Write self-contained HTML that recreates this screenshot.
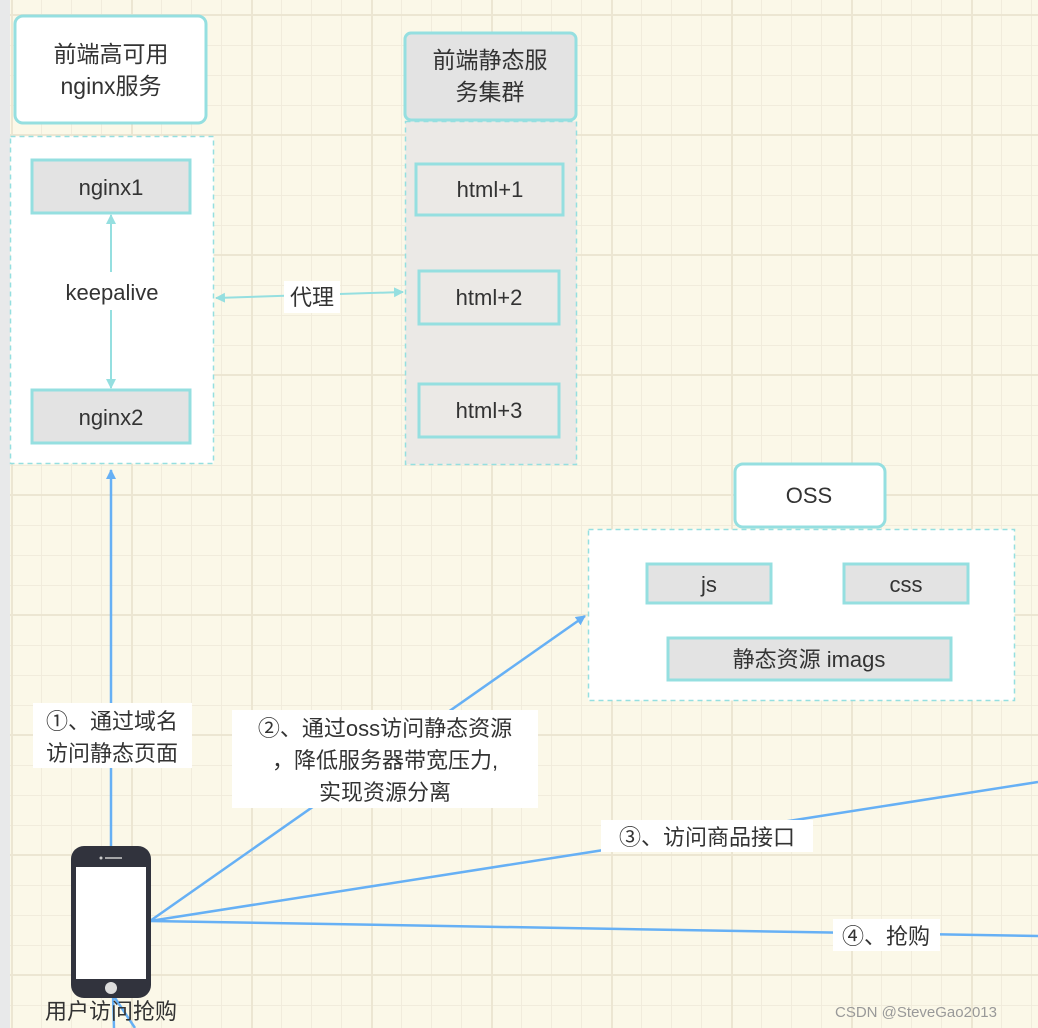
<!DOCTYPE html>
<html><head><meta charset="utf-8"><style>
html,body{margin:0;padding:0;width:1038px;height:1028px;overflow:hidden}
body{background-color:#fbf8e8;
background-image:
linear-gradient(90deg,#ece6d2 2px,transparent 2px),
linear-gradient(0deg,#ece6d2 2px,transparent 2px),
linear-gradient(90deg,#f1ecdc 1px,transparent 1px),
linear-gradient(0deg,#f1ecdc 1px,transparent 1px);
background-size:120px 120px,120px 120px,30px 30px,30px 30px;
background-position:131px 0,0 16px,11px 0,0 16px;}
svg{position:absolute;left:0;top:0}
text{font-family:"Liberation Sans","Noto Sans CJK SC",sans-serif;fill:#333}
</style></head><body>
<svg width="1038" height="1028" viewBox="0 0 1038 1028">
<defs>
<marker id="ab" markerWidth="10" markerHeight="10" refX="9" refY="5" orient="auto" markerUnits="userSpaceOnUse"><path d="M0,0 L10,5 L0,10 Z" fill="#66b0f5"/></marker>
<marker id="at" markerWidth="10" markerHeight="10" refX="9" refY="5" orient="auto" markerUnits="userSpaceOnUse"><path d="M0,0 L10,5 L0,10 Z" fill="#95dfe0"/></marker>
<marker id="ats" markerWidth="10" markerHeight="10" refX="1" refY="5" orient="auto" markerUnits="userSpaceOnUse"><path d="M10,0 L0,5 L10,10 Z" fill="#95dfe0"/></marker>
</defs>
<rect x="0" y="0" width="10" height="1028" fill="#e8e9ea"/>
<!-- left group -->
<rect x="15" y="16" width="191" height="107" rx="8" fill="#fff" stroke="#95dfe0" stroke-width="3"/>
<text x="111" y="62" font-size="23" text-anchor="middle">前端高可用</text>
<text x="111" y="94" font-size="23" text-anchor="middle">nginx服务</text>
<rect x="10.5" y="136.5" width="203" height="327" fill="#fff" stroke="#95dfe0" stroke-width="1.5" stroke-dasharray="5,4"/>
<rect x="32" y="160" width="158" height="53" fill="#e3e3e3" stroke="#95dfe0" stroke-width="3"/>
<text x="111" y="195" font-size="22" text-anchor="middle">nginx1</text>
<rect x="32" y="390" width="158" height="53" fill="#e3e3e3" stroke="#95dfe0" stroke-width="3"/>
<text x="111" y="425" font-size="22" text-anchor="middle">nginx2</text>
<line x1="111" y1="272" x2="111" y2="215" stroke="#95dfe0" stroke-width="2" marker-end="url(#at)"/>
<line x1="111" y1="310" x2="111" y2="388" stroke="#95dfe0" stroke-width="2" marker-end="url(#at)"/>
<text x="112" y="300" font-size="22" text-anchor="middle">keepalive</text>
<!-- middle group -->
<rect x="405" y="33" width="171" height="87" rx="6" fill="#e3e3e3" stroke="#95dfe0" stroke-width="3"/>
<text x="490" y="68" font-size="23" text-anchor="middle">前端静态服</text>
<text x="490" y="100" font-size="23" text-anchor="middle">务集群</text>
<rect x="405.5" y="121.5" width="171" height="343" fill="#ebe9e6" stroke="#95dfe0" stroke-width="1.5" stroke-dasharray="5,4"/>
<rect x="416" y="164" width="147" height="51" fill="#ebe9e6" stroke="#95dfe0" stroke-width="3"/>
<text x="490" y="197" font-size="22" text-anchor="middle">html+1</text>
<rect x="419" y="271" width="140" height="53" fill="#ebe9e6" stroke="#95dfe0" stroke-width="3"/>
<text x="489" y="305" font-size="22" text-anchor="middle">html+2</text>
<rect x="419" y="384" width="140" height="53" fill="#ebe9e6" stroke="#95dfe0" stroke-width="3"/>
<text x="489" y="418" font-size="22" text-anchor="middle">html+3</text>
<line x1="216" y1="298" x2="403" y2="292" stroke="#95dfe0" stroke-width="2" marker-start="url(#ats)" marker-end="url(#at)"/>
<rect x="284" y="281" width="56" height="32" fill="#fff"/>
<text x="312" y="305" font-size="22" text-anchor="middle">代理</text>
<!-- OSS -->
<rect x="735" y="464" width="150" height="63" rx="8" fill="#fff" stroke="#95dfe0" stroke-width="3"/>
<text x="809" y="503" font-size="22" text-anchor="middle">OSS</text>
<rect x="588.5" y="529.5" width="426" height="171" fill="#fff" stroke="#95dfe0" stroke-width="1.5" stroke-dasharray="5,4"/>
<rect x="647" y="564" width="124" height="39" fill="#e3e3e3" stroke="#95dfe0" stroke-width="3"/>
<text x="709" y="592" font-size="22" text-anchor="middle">js</text>
<rect x="844" y="564" width="124" height="39" fill="#e3e3e3" stroke="#95dfe0" stroke-width="3"/>
<text x="906" y="592" font-size="22" text-anchor="middle">css</text>
<rect x="668" y="638" width="283" height="42" fill="#e3e3e3" stroke="#95dfe0" stroke-width="3"/>
<text x="809" y="667" font-size="22" text-anchor="middle">静态资源 imags</text>
<!-- connectors -->
<g stroke="#66b0f5" stroke-width="2.5" fill="none">
<line x1="111" y1="846" x2="111" y2="470" marker-end="url(#ab)"/>
<line x1="150" y1="921" x2="585" y2="616" marker-end="url(#ab)"/>
<line x1="150" y1="921" x2="1038" y2="782"/>
<line x1="150" y1="921" x2="1038" y2="936"/>
<line x1="113" y1="995" x2="114" y2="1028"/>
<line x1="113" y1="995" x2="135" y2="1028"/>
</g>
<rect x="33" y="703" width="159" height="65" fill="#fff"/>
<text x="112" y="729" font-size="22" text-anchor="middle">①、通过域名</text>
<text x="112" y="761" font-size="22" text-anchor="middle">访问静态页面</text>
<rect x="232" y="710" width="306" height="98" fill="#fff"/>
<text x="385" y="736" font-size="22" text-anchor="middle">②、通过oss访问静态资源</text>
<text x="385" y="768" font-size="22" text-anchor="middle">，降低服务器带宽压力,</text>
<text x="385" y="800" font-size="22" text-anchor="middle">实现资源分离</text>
<rect x="601" y="820" width="212" height="32" fill="#fff"/>
<text x="707" y="845" font-size="22" text-anchor="middle">③、访问商品接口</text>
<rect x="833" y="919" width="107" height="32" fill="#fff"/>
<text x="886" y="944" font-size="22" text-anchor="middle">④、抢购</text>
<!-- phone -->
<rect x="71" y="846" width="80" height="152" rx="13" fill="#31333d"/>
<rect x="76" y="867" width="70" height="112" fill="#fff"/>
<circle cx="101" cy="858" r="1.5" fill="#ccc"/>
<line x1="105" y1="858" x2="122" y2="858" stroke="#ccc" stroke-width="1.5"/>
<circle cx="111" cy="988" r="6" fill="#ddd"/>
<text x="111" y="1019" font-size="22" text-anchor="middle">用户访问抢购</text>
<text x="835" y="1017" font-size="15" style="fill:#999">CSDN @SteveGao2013</text>
</svg>
</body></html>
